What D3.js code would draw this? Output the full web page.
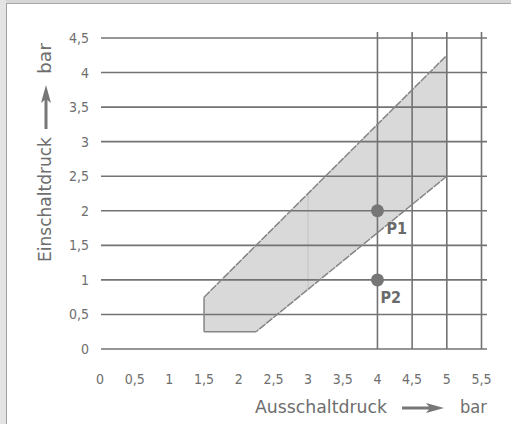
<!DOCTYPE html>
<html>
<head>
<meta charset="utf-8">
<script src="https://cdn.jsdelivr.net/npm/d3@7"></script>
<style>
  body { margin: 0; background: #fff; }
  svg { display: block; }
  text { font-family: "DejaVu Sans Condensed", "Liberation Sans Narrow", sans-serif; fill: #6e6e6e; }
</style>
</head>
<body>
<svg id="chart" width="511" height="424"></svg>
<script>
// values
const xTicks = [0, 0.5, 1, 1.5, 2, 2.5, 3, 3.5, 4, 4.5, 5, 5.5];
const yTicks = [0, 0.5, 1, 1.5, 2, 2.5, 3, 3.5, 4, 4.5];
const xGrid = [4, 4.5, 5, 5.5];
const band = [[1.5, 0.25], [1.5, 0.75], [5, 4.25], [5, 2.5], [2.25, 0.25]];
const faintX = [3];
const points = [
  { name: 'P1', x: 4, y: 2 },
  { name: 'P2', x: 4, y: 1 }
];
const xTitle = 'Ausschaltdruck';
const yTitle = 'Einschaltdruck';
const unit = 'bar';

const svg = d3.select('#chart');
const fmt = v => String(v).replace('.', ',');

const x = d3.scaleLinear().domain([0, 5.5]).range([100, 481.5]);
const y = d3.scaleLinear().domain([0, 4.5]).range([349, 38]);

// frame
svg.append('rect').attr('x', 0).attr('y', 0).attr('width', 511).attr('height', 3).attr('fill', '#d6d6d6');
svg.append('rect').attr('x', 0).attr('y', 0).attr('width', 6).attr('height', 424).attr('fill', '#e4e4e4');
svg.append('line').attr('x1', 6).attr('x2', 511).attr('y1', 3.5).attr('y2', 3.5).attr('stroke', '#a8a8a8');
svg.append('line').attr('x1', 6.5).attr('x2', 6.5).attr('y1', 3).attr('y2', 424).attr('stroke', '#a0a0a0');

const gridColor = '#737373';

// band
const bandPts = band.map(d => [x(d[0]), y(d[1])]);
svg.append('path')
  .attr('d', d3.line()(bandPts) + 'Z')
  .attr('fill', '#d9d9d9');

// faint line inside band at x=3
const upper = d3.scaleLinear().domain([band[1][0], band[2][0]]).range([band[1][1], band[2][1]]);
const lower = d3.scaleLinear().domain([band[4][0], band[3][0]]).range([band[4][1], band[3][1]]);
svg.selectAll('.faint').data(faintX).join('line')
  .attr('x1', d => x(d)).attr('x2', d => x(d))
  .attr('y1', d => y(lower(d))).attr('y2', d => y(upper(d)))
  .attr('stroke', '#c6c6c6').attr('stroke-width', 1.2);

// horizontal grid
svg.selectAll('.hgrid').data(yTicks).join('line')
  .attr('x1', 101).attr('x2', 487)
  .attr('y1', d => y(d)).attr('y2', d => y(d))
  .attr('stroke', gridColor).attr('stroke-width', 1.6);

// vertical grid
svg.selectAll('.vgrid').data(xGrid).join('line')
  .attr('x1', d => x(d)).attr('x2', d => x(d))
  .attr('y1', 32).attr('y2', y(0))
  .attr('stroke', gridColor).attr('stroke-width', 1.6);

// band outline: solid left and bottom, dashed diagonals
const edge = (a, b, dash) => svg.append('line')
  .attr('x1', x(a[0])).attr('y1', y(a[1]))
  .attr('x2', x(b[0])).attr('y2', y(b[1]))
  .attr('stroke', '#858585').attr('stroke-width', 1.5)
  .attr('stroke-dasharray', dash);
edge(band[0], band[1], null);
edge(band[1], band[2], '8,1');
edge(band[3], band[4], '8,1');
edge(band[4], band[0], null);

// points
svg.selectAll('.pt').data(points).join('circle')
  .attr('cx', d => x(d.x)).attr('cy', d => y(d.y)).attr('r', 6.5)
  .attr('fill', '#767676');
svg.selectAll('.ptlab').data(points).join('text')
  .attr('x', (d, i) => x(d.x) + (i === 0 ? 9 : 3))
  .attr('y', d => y(d.y) + 23)
  .attr('font-size', 16).attr('font-weight', 'bold')
  .style('fill', '#6a6a6a')
  .text(d => d.name);

// y tick labels
svg.selectAll('.ylab').data(yTicks).join('text')
  .attr('x', 89).attr('y', d => y(d) + 5)
  .attr('text-anchor', 'end').attr('font-size', 14)
  .text(fmt);

// x tick labels
svg.selectAll('.xlab').data(xTicks).join('text')
  .attr('x', d => x(d)).attr('y', 384)
  .attr('text-anchor', 'middle').attr('font-size', 14)
  .text(fmt);

// arrow shape
const arrow = (g, len) => {
  g.append('line').attr('x1', 0).attr('x2', len - 12).attr('y1', 0).attr('y2', 0)
    .attr('stroke', '#777').attr('stroke-width', 3);
  g.append('path')
    .attr('d', `M${len - 18},-5 L${len},0 L${len - 18},5 L${len - 14},0 Z`)
    .attr('fill', '#777');
};

// x title
const xt = svg.append('g');
xt.append('text').attr('x', 255).attr('y', 413).attr('font-size', 17)
  .attr('textLength', 132).attr('lengthAdjust', 'spacingAndGlyphs').text(xTitle);
const xa = xt.append('g').attr('transform', 'translate(402,408)');
arrow(xa, 42);
xt.append('text').attr('x', 460).attr('y', 413).attr('font-size', 17)
  .attr('textLength', 27).attr('lengthAdjust', 'spacingAndGlyphs').text(unit);

// y title
const yt = svg.append('g').attr('transform', 'translate(51,0) rotate(-90)');
yt.append('text').attr('x', -262).attr('y', 0).attr('font-size', 17)
  .attr('textLength', 125).attr('lengthAdjust', 'spacingAndGlyphs').text(yTitle);
const ya = yt.append('g').attr('transform', 'translate(-129,-5)');
arrow(ya, 44);
yt.append('text').attr('x', -74).attr('y', 0).attr('font-size', 17)
  .attr('textLength', 31).attr('lengthAdjust', 'spacingAndGlyphs').text(unit);
</script>
</body>
</html>
